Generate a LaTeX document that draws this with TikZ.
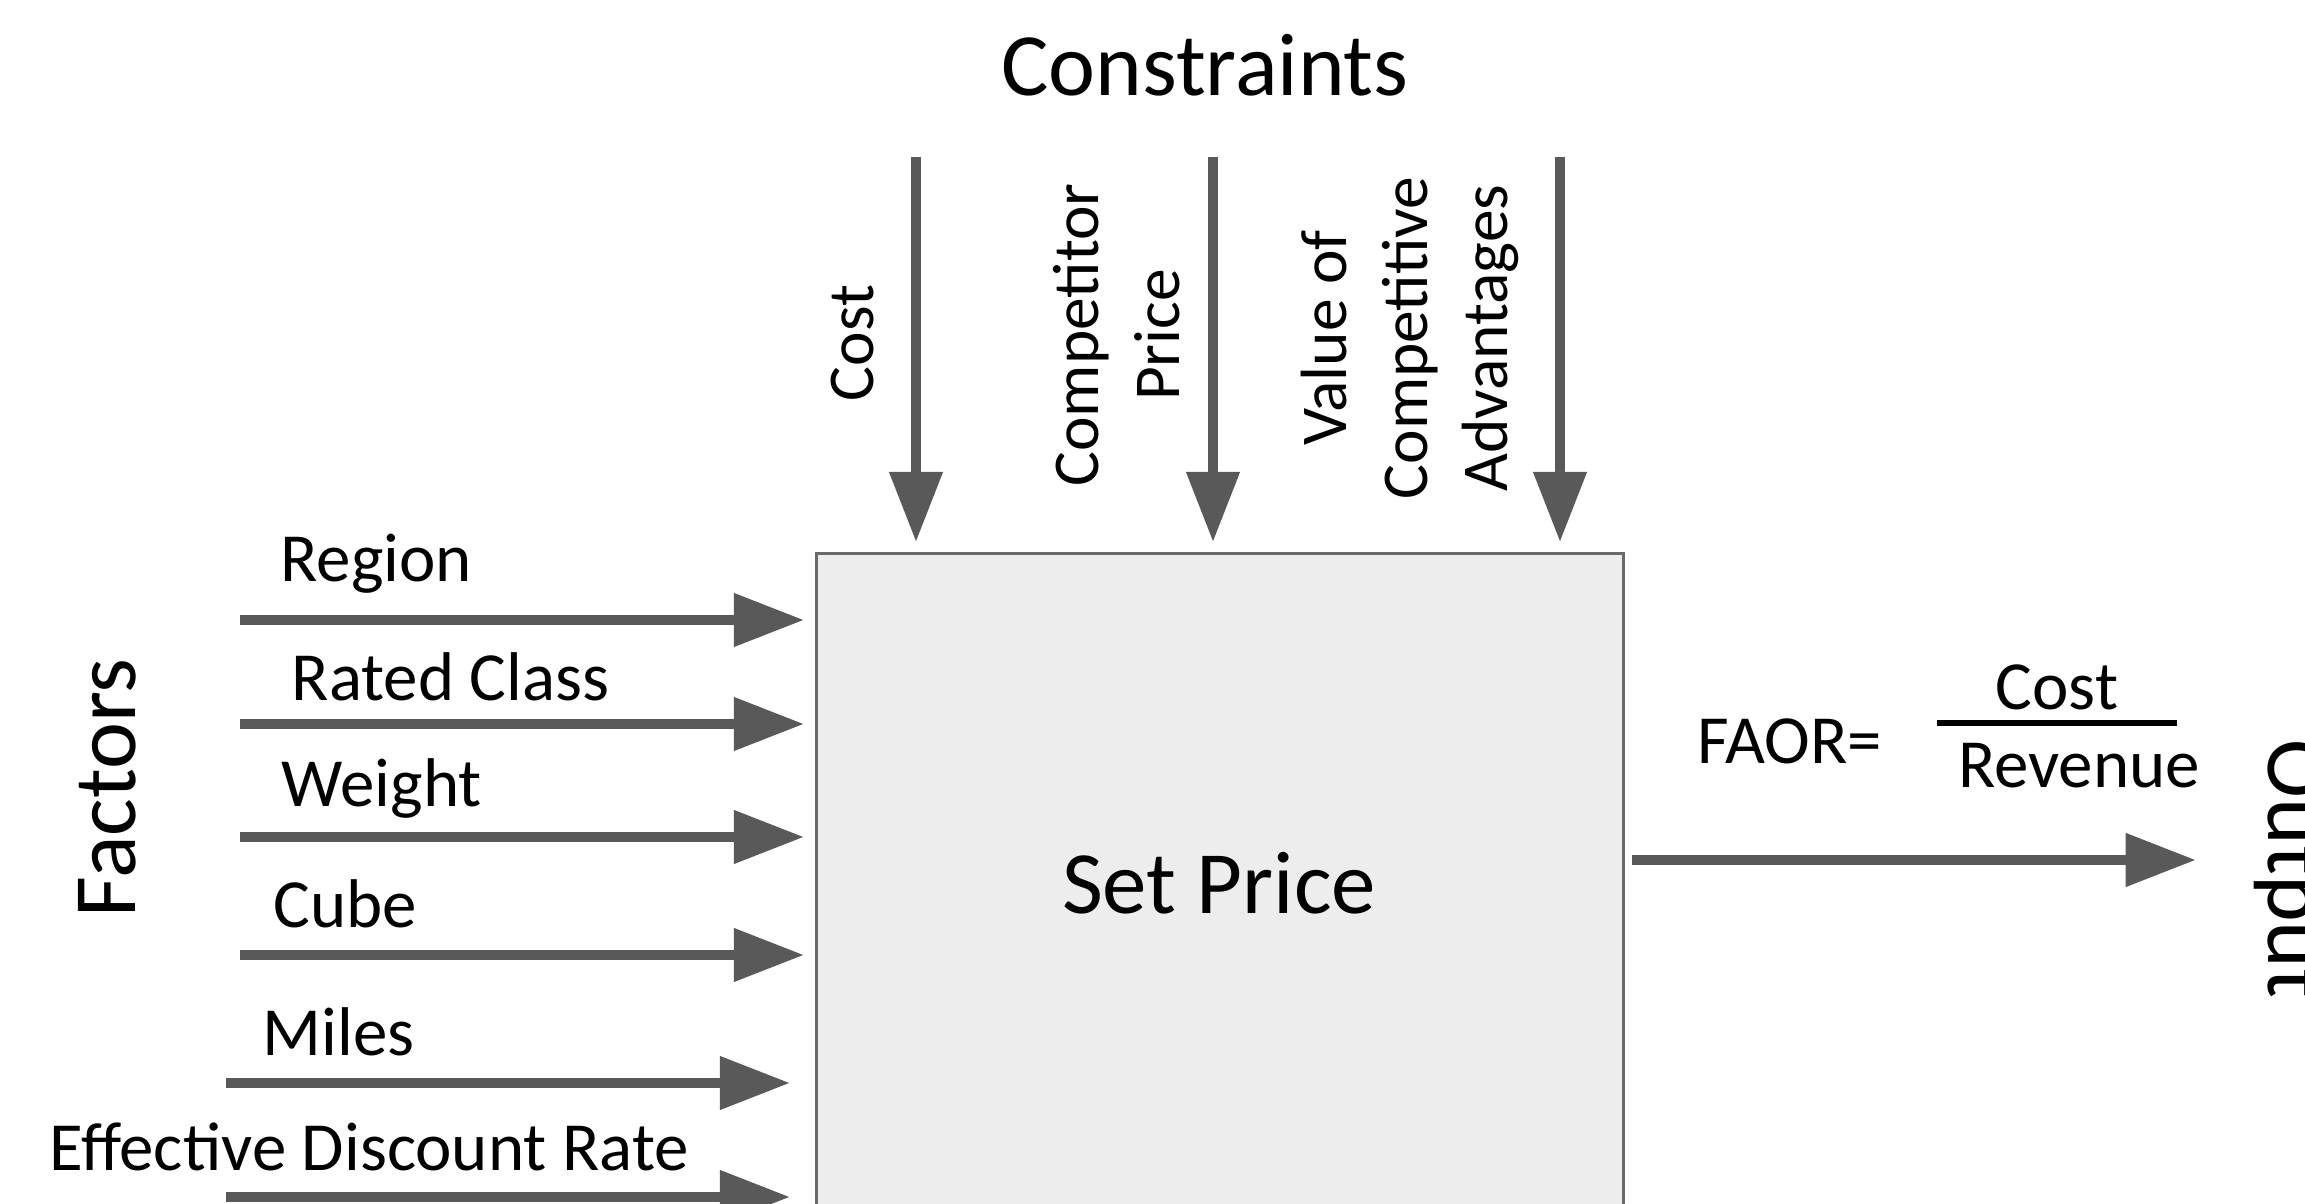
\documentclass[tikz,border=0pt]{standalone}
\usepackage{fontspec}
\setmainfont{Carlito}
\usetikzlibrary{arrows.meta}

\definecolor{arrowgray}{HTML}{595959}
\definecolor{boxgray}{HTML}{EDEDED}
\definecolor{edgegray}{HTML}{6A6A6A}

\tikzset{
  flow/.style={draw=arrowgray, line width=3.1pt, -{Triangle[length=20pt,width=14.5pt]}},
  item/.style={anchor=base west, inner sep=0pt, font=\fontsize{19.6}{23.5}\selectfont},
  limit/.style={rotate=90, align=center, inner sep=0pt, font=\fontsize{18.6}{23}\selectfont},
  heading/.style={inner sep=0pt, font=\fontsize{25.3}{30}\selectfont},
}

\begin{document}
\begin{tikzpicture}[x=0.01cm, y=-0.01cm]

\useasboundingbox (0,0) rectangle (2305,1204);
\clip (0,0) rectangle (2305,1204);

\node [draw=edgegray, fill=boxgray, line width=0.9pt, minimum width=8.06cm, minimum height=7.5cm] (box) at (1220,929) {};
\node [heading, anchor=base] (setprice) at (1219,914) {Set Price};

\coordinate (c1) at (916,157);
\coordinate (c2) at (1213,157);
\coordinate (c3) at (1560,157);

\foreach \i in {1,2,3}
    \draw [flow, shorten >=0.1cm] (c\i) -- (c\i |- box.north);

\node [heading, anchor=base] (constraints) at (1205,96) {Constraints};
\node [limit] (cost) at (853,343) {Cost};
\node [limit] (rival) at (1117,335) {Competitor\\Price};
\node [limit] (edge) at (1410,338) {Value of\\Competitive\\Advantages};

\foreach \i/\y in {1/620,2/724,3/837,4/955}
    \coordinate (f\i) at (240,\y);
\foreach \i/\y in {5/1083,6/1197}
    \coordinate (f\i) at (226,\y);

\foreach \i in {1,2,3,4}
    \draw [flow, shorten >=0.11cm] (f\i) -- (f\i -| box.west);
\foreach \i in {5,6}
    \draw [flow, shorten >=0.25cm] (f\i) -- (f\i -| box.west);

\node [item] (region) at (280,582) {Region};
\node [item] (rated) at (291,701) {Rated Class};
\node [item] (weight) at (281,807) {Weight};
\node [item] (cube) at (273,928) {Cube};
\node [item] (miles) at (262,1056) {Miles};
\node [item] (discount) at (49,1171) {Effective Discount Rate};

\node [heading, rotate=90, anchor=base west] (factors) at (135,918) {Factors};

\coordinate (out) at (2196,860);
\draw [flow, shorten <=0.07cm] (box.east |- out) -- (out);

\node [item] (faor) at (1697,764) {FAOR=};
\node [item, anchor=base] (num) at (2057,710) {Cost};
\node [item, anchor=base] (den) at (2079,788) {Revenue};
\coordinate (barl) at (1937,723);
\coordinate (barr) at (2177,723);
\draw [line width=1.7pt] (barl) -- (barr);

\node [heading, rotate=-90, anchor=base west] (output) at (2268,739) {Output};

\end{tikzpicture}
\end{document}
